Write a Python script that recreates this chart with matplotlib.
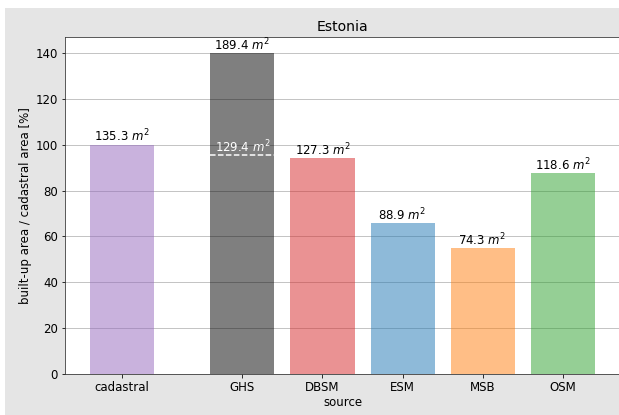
import matplotlib
matplotlib.use("Agg")
import matplotlib.pyplot as plt
from matplotlib.patches import Rectangle

categories = ["cadastral", "GHS", "DBSM", "ESM", "MSB", "OSM"]
positions = [0, 1.5, 2.5, 3.5, 4.5, 5.5]
percent = [100.0, 140.0, 94.1, 65.7, 54.9, 87.7]
area_labels = [135.3, 189.4, 127.3, 88.9, 74.3, 118.6]
colors = ["tab:purple", "black", "tab:red", "tab:blue", "tab:orange", "tab:green"]
ghs_sub_percent = 95.6
ghs_sub_label = 129.4

FS = 11.8
plt.rcParams["font.family"] = ["DejaVu Sans"]
plt.rcParams["font.size"] = FS

fig = plt.figure(figsize=(619 / 72, 415 / 72), dpi=72, facecolor="white")
fig.patches.append(Rectangle((5 / 619, 0), 1, (415 - 8) / 415,
                             transform=fig.transFigure, facecolor="#e5e5e5",
                             edgecolor="none", zorder=-10))
ax = fig.add_axes([65 / 619, 41 / 415, (620 - 65) / 619, (374 - 37) / 415])
ax.set_axisbelow(True)
ax.yaxis.grid(True, color="#c4c4c4", linewidth=1.0)
for s in ax.spines.values():
    s.set_color("#333333")

bars = ax.bar(positions, percent, width=0.8, color=colors, alpha=0.5)
for p, v, a in zip(positions, percent, area_labels):
    ax.text(p, v, f"{a} $m^2$", ha="center", va="bottom", fontsize=FS)

ghs_x = positions[1]
ax.plot([ghs_x - 0.4, ghs_x + 0.4], [ghs_sub_percent, ghs_sub_percent],
        color="white", linestyle="--", linewidth=1.5)
ax.text(ghs_x, ghs_sub_percent, f"{ghs_sub_label} $m^2$", ha="center",
        va="bottom", color="white", fontsize=FS)

ax.set_xticks(positions)
ax.set_xticklabels(categories)
ax.tick_params(labelsize=FS)
ax.set_xlabel("source", fontsize=FS, labelpad=2)
ax.set_ylabel("built-up area / cadastral area [%]", fontsize=FS)
ax.set_title("Estonia", fontsize=14)

fig.savefig("out.png", dpi=72, facecolor=fig.get_facecolor())
